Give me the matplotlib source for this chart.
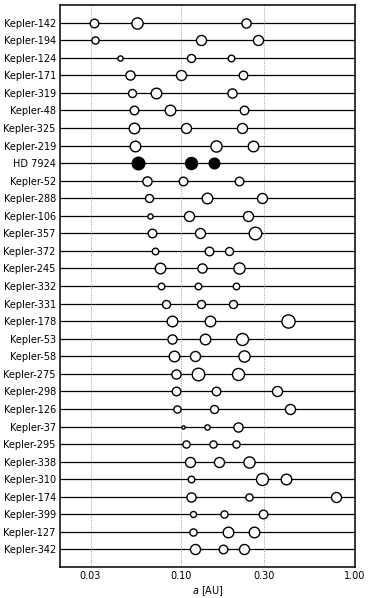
import matplotlib
matplotlib.use('Agg')
import matplotlib.pyplot as plt

# Data: system names, semi-major axes [AU] and relative planet sizes
systems = ['Kepler-142', 'Kepler-194', 'Kepler-124', 'Kepler-171', 'Kepler-319',
           'Kepler-48', 'Kepler-325', 'Kepler-219', 'HD 7924', 'Kepler-52',
           'Kepler-288', 'Kepler-106', 'Kepler-357', 'Kepler-372', 'Kepler-245',
           'Kepler-332', 'Kepler-331', 'Kepler-178', 'Kepler-53', 'Kepler-58',
           'Kepler-275', 'Kepler-298', 'Kepler-126', 'Kepler-37', 'Kepler-295',
           'Kepler-338', 'Kepler-310', 'Kepler-174', 'Kepler-399', 'Kepler-127',
           'Kepler-342']
a_values = [
    [0.0313, 0.0554, 0.236],
    [0.0320, 0.130, 0.275],
    [0.0442, 0.113, 0.1925],
    [0.0507, 0.0996, 0.2275],
    [0.0522, 0.0712, 0.1966],
    [0.0532, 0.0857, 0.230],
    [0.0536, 0.107, 0.2245],
    [0.0539, 0.158, 0.260],
    [0.0566, 0.113, 0.155],
    [0.0632, 0.102, 0.214],
    [0.0652, 0.141, 0.290],
    [0.0660, 0.111, 0.243],
    [0.0678, 0.128, 0.265],
    [0.0706, 0.144, 0.189],
    [0.0751, 0.132, 0.215],
    [0.0761, 0.124, 0.2065],
    [0.0813, 0.130, 0.1976],
    [0.0884, 0.147, 0.413],
    [0.0888, 0.137, 0.2236],
    [0.0904, 0.120, 0.2305],
    [0.0929, 0.125, 0.212],
    [0.0936, 0.158, 0.357],
    [0.0941, 0.154, 0.424],
    [0.1023, 0.140, 0.212],
    [0.106, 0.152, 0.2056],
    [0.112, 0.164, 0.246],
    [0.113, 0.2915, 0.402],
    [0.113, 0.244, 0.774],
    [0.116, 0.175, 0.295],
    [0.116, 0.1865, 0.262],
    [0.120, 0.173, 0.229],
]
sizes = [
    [5.0, 6.3, 5.3],
    [4.3, 5.7, 5.7],
    [3.3, 4.7, 4.0],
    [5.3, 5.7, 5.0],
    [4.7, 6.0, 5.3],
    [5.0, 6.0, 5.0],
    [6.0, 5.7, 5.7],
    [6.0, 6.3, 6.0],
    [7.0, 6.7, 6.0],
    [5.3, 5.0, 5.0],
    [4.7, 6.0, 5.7],
    [3.3, 5.7, 5.7],
    [5.0, 5.7, 7.0],
    [4.0, 5.0, 4.7],
    [6.0, 5.3, 6.3],
    [4.0, 4.0, 4.0],
    [4.7, 4.7, 4.7],
    [6.0, 6.0, 7.3],
    [5.3, 6.0, 6.7],
    [6.0, 5.7, 6.3],
    [5.3, 7.0, 6.7],
    [5.0, 5.0, 5.7],
    [4.3, 4.7, 5.7],
    [2.3, 3.3, 5.3],
    [4.3, 4.3, 4.3],
    [5.7, 5.7, 6.3],
    [4.0, 6.7, 6.0],
    [5.3, 4.3, 5.7],
    [3.7, 4.3, 5.0],
    [4.3, 6.0, 6.0],
    [5.7, 5.0, 5.7],
]
highlight = 'HD 7924'

fig = plt.figure(figsize=(3.74, 5.98), dpi=100)
ax = fig.add_axes([0.1604, 0.0518, 0.7886, 0.9398])

px_per_pt = fig.dpi / 72.0
for i, name in enumerate(systems):
    ax.axhline(i, color='black', lw=0.9, zorder=1)
    filled = name == highlight
    for a, r in zip(a_values[i], sizes[i]):
        ms = 2 * r / px_per_pt - 1.0
        ax.plot(a, i, 'o', ms=ms, mew=1.0, mec='black',
                mfc='black' if filled else 'white', zorder=3)

ax.set_xscale('log')
ax.set_xlim(0.02, 1.0)
ax.set_ylim(len(systems), -1)
ax.set_xticks([0.03, 0.1, 0.3, 1.0])
ax.set_xticklabels(['0.03', '0.10', '0.30', '1.00'])
ax.xaxis.set_minor_locator(matplotlib.ticker.NullLocator())
ax.set_yticks(range(len(systems)))
ax.set_yticklabels(systems)
ax.tick_params(axis='both', length=0, labelsize=7, pad=3)
ax.grid(axis='x', color='gray', ls=':', lw=0.6, zorder=0)
for s in ax.spines.values():
    s.set_linewidth(1.1)
ax.set_xlabel('$a$ [AU]', fontsize=7, labelpad=2)

fig.savefig('out.png', dpi=100)
